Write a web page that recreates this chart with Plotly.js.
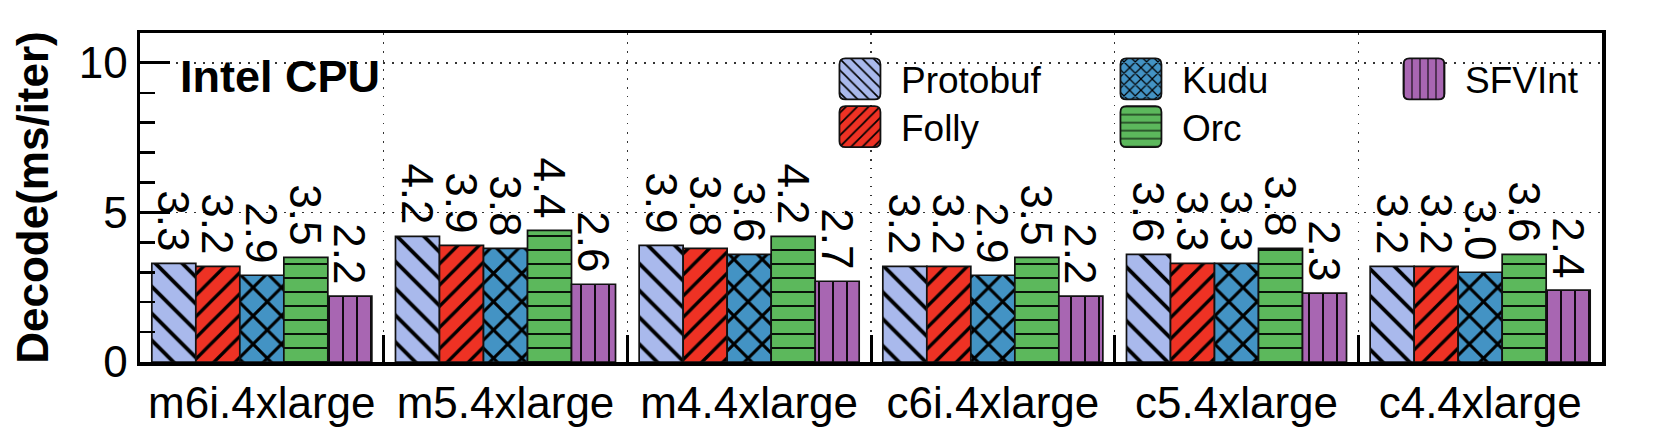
<!DOCTYPE html>
<html>
<head>
<meta charset="utf-8">
<script src="https://cdn.plot.ly/plotly-3.0.1.min.js"></script>
<style>
  html, body { margin: 0; padding: 0; background: #fff; }
  #chart { width: 1661px; height: 434px; }
</style>
</head>
<body>
<div id="chart"></div>
<script>
// instances on the x axis
const instances = ["m6i.4xlarge", "m5.4xlarge", "m4.4xlarge", "c6i.4xlarge", "c5.4xlarge", "c4.4xlarge"];

// decode time (ms/iter) per library
const protobuf = [3.3, 4.2, 3.9, 3.2, 3.6, 3.2];
const folly    = [3.2, 3.9, 3.8, 3.2, 3.3, 3.2];
const kudu     = [2.9, 3.8, 3.6, 2.9, 3.3, 3.0];
const orc      = [3.5, 4.4, 4.2, 3.5, 3.8, 3.6];
const sfvint   = [2.2, 2.6, 2.7, 2.2, 2.3, 2.4];

const FONT = "Liberation Sans, Arial, Helvetica, sans-serif";

// name, values, colour, hatch, hatch size, solidity, legend slot
const series = [
    ["Protobuf", protobuf, "#A9B9EC", "\\", 19, 0.2,  "legend"],
    ["Folly",    folly,    "#EE3224", "/",  15, 0.22, "legend2"],
    ["Kudu",     kudu,     "#4393C4", "x",  20, 0.28, "legend3"],
    ["Orc",      orc,      "#5CB85C", "-",  14, 0.13, "legend4"],
    ["SFVInt",   sfvint,   "#A866B2", "|",  14, 0.13, "legend5"]
];

const traces = series.map(([name, vals, color, shape, size, sol, leg]) => ({
    type: "bar",
    name: name,
    x: instances,
    y: vals,
    legend: leg,
    marker: {
        color: color,
        line: {color: "#111", width: 1.7},
        pattern: {shape: shape, fgcolor: "#000", bgcolor: color, size: size, solidity: sol, fillmode: "replace"}
    },
    // thin space at the end lifts the label a little off the bar
    texttemplate: "%{y:.1f}\u2009",
    textposition: "outside",
    textangle: 90,
    constraintext: "none",
    cliponaxis: false,
    textfont: {family: FONT, size: 44, color: "#000"},
    hoverinfo: "x+y+name"
}));

// one legend per entry so the 3-column layout can be placed freely
const legBase = {
    bgcolor: "rgba(0,0,0,0)",
    font: {family: FONT, size: 37, color: "#000"},
    itemwidth: 72,
    xanchor: "left",
    yanchor: "middle"
};
const col1 = 0.4644, col2 = 0.6566, col3 = 0.8502;
const row1 = 0.859, row2 = 0.714;

const layout = {
    width: 1661,
    height: 434,
    margin: {l: 140, r: 59, t: 33, b: 72},
    paper_bgcolor: "#fff",
    plot_bgcolor: "#fff",
    font: {family: FONT, color: "#000"},
    barmode: "group",
    bargap: 0.097,
    bargroupgap: 0,
    showlegend: true,
    legend:  Object.assign({}, legBase, {x: col1, y: row1}),
    legend2: Object.assign({}, legBase, {x: col1, y: row2}),
    legend3: Object.assign({}, legBase, {x: col2, y: row1}),
    legend4: Object.assign({}, legBase, {x: col2, y: row2}),
    legend5: Object.assign({}, legBase, {x: col3, y: row1}),
    xaxis: {
        type: "category",
        tickson: "boundaries",
        ticks: "inside",
        ticklen: 27,
        tickwidth: 3,
        tickcolor: "#000",
        showgrid: true,
        gridcolor: "#333",
        gridwidth: 1.5,
        griddash: "1.5px,7.5px",
        showline: true,
        linecolor: "#000",
        linewidth: 3.5,
        mirror: true,
        tickfont: {family: FONT, size: 44, color: "#000"},
        fixedrange: true
    },
    yaxis: {
        range: [0, 11],
        dtick: 5,
        ticks: "inside",
        ticklen: 30,
        tickwidth: 3,
        tickcolor: "#000",
        minor: {dtick: 1, ticks: "inside", ticklen: 15, tickwidth: 2.5, tickcolor: "#000", showgrid: false},
        showgrid: true,
        gridcolor: "#333",
        gridwidth: 1.5,
        griddash: "1.5px,7.5px",
        zeroline: false,
        showline: true,
        linecolor: "#000",
        linewidth: 3.5,
        mirror: true,
        tickfont: {family: FONT, size: 44, color: "#000"},
        title: {text: "Decode(ms/iter)", font: {family: FONT, size: 44, weight: "bold", color: "#000"}, standoff: 17},
        fixedrange: true
    },
    annotations: [{
        text: "Intel CPU",
        xref: "paper", x: 0.026, xanchor: "left",
        yref: "y", y: 9.53, yanchor: "middle",
        showarrow: false,
        font: {family: FONT, size: 45, weight: "bold", color: "#000"}
    }]
};

Plotly.newPlot("chart", traces, layout, {displayModeBar: false, staticPlot: true}).then(gd => {
    // bigger rounded swatches, like the original legend
    const r = 6, h = 20.5;
    const d = `M${-h + r},${-h}H${h - r}Q${h},${-h} ${h},${-h + r}V${h - r}Q${h},${h} ${h - r},${h}` +
              `H${-h + r}Q${-h},${h} ${-h},${h - r}V${-h + r}Q${-h},${-h} ${-h + r},${-h}Z`;
    gd.querySelectorAll(".legendpoints path").forEach(p => {
        p.setAttribute("d", d);
        p.style.strokeWidth = "1.8px";
        p.style.stroke = "#111";
    });
});
</script>
</body>
</html>
